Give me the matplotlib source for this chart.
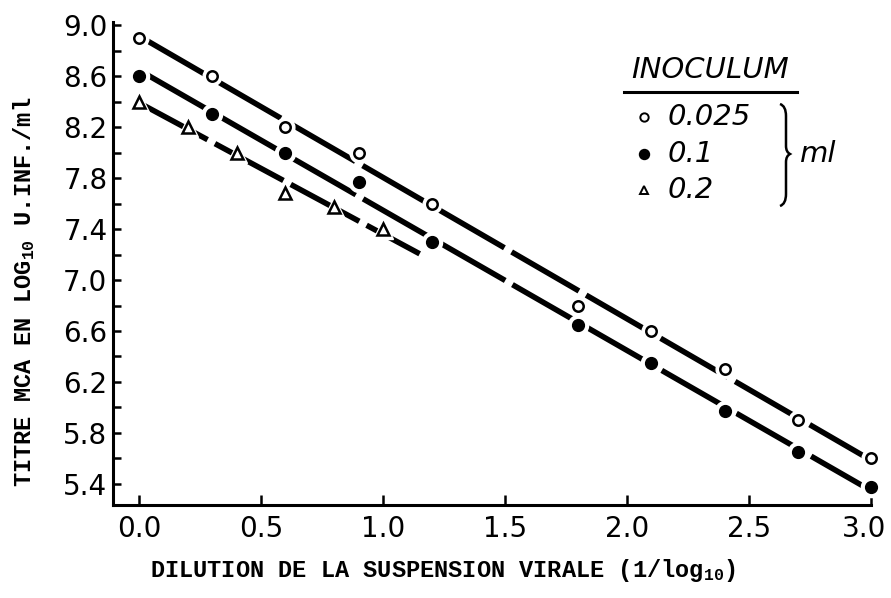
import numpy as np
import matplotlib
matplotlib.use("Agg")
import matplotlib.pyplot as plt
import matplotlib.transforms as mtransforms
from matplotlib.path import Path
from matplotlib.patches import PathPatch

# mathtext subscripts in the same typewriter face as the axis titles
plt.rcParams['mathtext.fontset'] = 'custom'
plt.rcParams['mathtext.rm'] = 'Liberation Mono:bold'
plt.rcParams['mathtext.it'] = 'Liberation Mono:bold'

# Dilution (1/log10) and titre for each inoculum volume
dil_a = [0.0, 0.3, 0.6, 0.9, 1.2, 1.8, 2.1, 2.4, 2.7, 3.0]
titre_a = [8.9, 8.6, 8.2, 8.0, 7.6, 6.8, 6.6, 6.3, 5.9, 5.6]          # 0.025 ml

dil_b = [0.0, 0.3, 0.6, 0.9, 1.2, 1.8, 2.1, 2.4, 2.7, 3.0]
titre_b = [8.6, 8.3, 8.0, 7.77, 7.3, 6.65, 6.35, 5.97, 5.65, 5.38]    # 0.1 ml

dil_c = [0.0, 0.2, 0.4, 0.6, 0.8, 1.0]
titre_c = [8.4, 8.2, 8.0, 7.68, 7.57, 7.4]                           # 0.2 ml

# extent of each fitted line along the dilution axis
fit_range_a = [0.0, 3.0]
fit_range_b = [0.0, 3.0]
fit_range_c = [0.0, 1.15]

legend_labels = ['0.025', '0.1', '0.2']
xticks = [0.0, 0.5, 1.0, 1.5, 2.0, 2.5, 3.0]
xtick_labels = ['0.0', '0.5', '1.0', '1.5', '2.0', '2.5', '3.0']
yticks_major = [5.4, 5.8, 6.2, 6.6, 7.0, 7.4, 7.8, 8.2, 8.6, 9.0]
yticks_minor = [5.6, 6.0, 6.4, 6.8, 7.2, 7.6, 8.0, 8.4, 8.8]

W, H = 891, 598
fig = plt.figure(figsize=(W / 100, H / 100), dpi=100)
ax = fig.add_axes([113 / W, 1 - 505 / H, (871 - 113) / W, (505 - 22) / H])
ax.set_xlim(-0.107, 3.0)
ax.set_ylim(5.235, 9.024)

series = [
    (dil_a, titre_a, fit_range_a, dict(marker='o', ms=7.5, mfc='white', mec='black', mew=1.8)),
    (dil_b, titre_b, fit_range_b, dict(marker='o', ms=8.5, mfc='black', mec='black', mew=1)),
    (dil_c, titre_c, fit_range_c, dict(marker='^', ms=8, mfc='white', mec='black', mew=1.8)),
]

for xs, ys, rng, style in series:
    slope, icpt = np.polyfit(xs, ys, 1)
    fx = np.array(rng)
    line, = ax.plot(fx, slope * fx + icpt, color='black', lw=4, solid_capstyle='butt',
                    dash_capstyle='butt', zorder=2)
    line.set_dashes((14, 1.5))
    # white halo so the line breaks around each point
    ax.plot(xs, ys, linestyle='none', marker=style['marker'], ms=style['ms'] + 6,
            color='white', mec='white', zorder=3, clip_on=False)
    ax.plot(xs, ys, linestyle='none', zorder=4, clip_on=False, **style)

# axes styling
for side in ['top', 'right']:
    ax.spines[side].set_visible(False)
for side in ['left', 'bottom']:
    ax.spines[side].set_linewidth(2.2)

ax.set_xticks(xticks)
ax.set_xticklabels(xtick_labels)
ax.set_yticks(yticks_major)
ax.set_yticklabels([f'{v:.1f}' for v in yticks_major])
ax.set_yticks(yticks_minor, minor=True)
ax.tick_params(axis='both', which='both', direction='in', width=1.8, labelsize=20)
ax.tick_params(axis='x', which='major', length=7, pad=7)
ax.tick_params(axis='y', which='major', length=6, pad=4)
ax.tick_params(axis='y', which='minor', length=6)
for lab in ax.get_xticklabels() + ax.get_yticklabels():
    lab.set_family('DejaVu Sans')
    lab.set_fontweight('medium')
# nudge the last x label so it stays inside the canvas, as in the scan
last = ax.get_xticklabels()[-1]
last.set_transform(last.get_transform() +
                   mtransforms.ScaledTranslation(-7 / 100, 0, fig.dpi_scale_trans))

fig.text(443 / W, 1 - 577 / H, 'DILUTION DE LA SUSPENSION VIRALE (1/log$_{10}$)',
         family='Liberation Mono', fontweight='bold', fontsize=17,
         ha='center', va='baseline')
fig.text(24 / W, 1 - 292 / H, 'TITRE MCA EN LOG$_{10}$ U.INF./ml',
         family='Liberation Mono', fontweight='bold', fontsize=17,
         ha='center', va='center', rotation=90)

# hand-built legend
fig.text(710 / W, 1 - 70 / H, 'INOCULUM', fontsize=21, style='italic',
         ha='center', va='center')
fig.add_artist(plt.Line2D([624 / W, 797 / W], [1 - 92 / H, 1 - 92 / H],
                          color='black', lw=2.2))
leg_y = [117, 154, 190]
for (_, _, _, style), lab, yy in zip(series, legend_labels, leg_y):
    small = dict(style)
    small['ms'] = style['ms'] * 0.8
    small['mew'] = 1.4
    fig.add_artist(plt.Line2D([644 / W], [1 - yy / H], linestyle='none', **small))
    fig.text(668 / W, 1 - yy / H, lab, fontsize=21, style='italic',
             ha='left', va='center')

# right brace and unit
bx, bt, bm, bb = 780, 104, 154, 206
verts = [(bx, bt), (bx + 6, bt + 2), (bx + 6, bt + 12),
         (bx + 6, bm - 8), (bx + 6, bm - 2), (bx + 10, bm),
         (bx + 6, bm + 2), (bx + 6, bm + 8),
         (bx + 6, bb - 12), (bx + 6, bb - 2), (bx, bb)]
codes = [Path.MOVETO, Path.CURVE3, Path.CURVE3,
         Path.LINETO, Path.CURVE3, Path.CURVE3,
         Path.CURVE3, Path.CURVE3,
         Path.LINETO, Path.CURVE3, Path.CURVE3]
verts = [(vx / W, 1 - vy / H) for vx, vy in verts]
fig.add_artist(PathPatch(Path(verts, codes), transform=fig.transFigure,
                         fill=False, lw=1.8, color='black'))
fig.text(800 / W, 1 - 154 / H, 'ml', fontsize=21, style='italic',
         ha='left', va='center')

fig.savefig('out.png', dpi=100)
